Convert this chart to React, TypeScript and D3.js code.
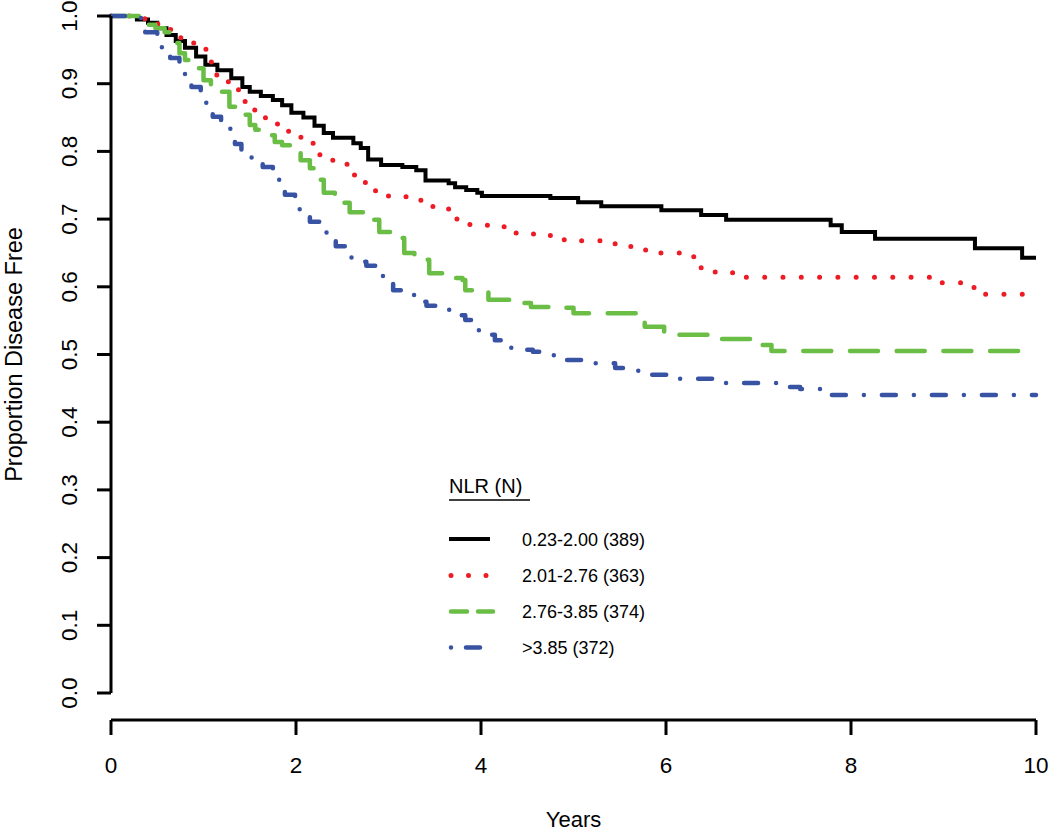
import React from "react";
import * as d3 from "d3";

const groupLabels = ["0.23-2.00 (389)", "2.01-2.76 (363)", "2.76-3.85 (374)", ">3.85 (372)"];
const groupColors = ["#000000", "#ED1C24", "#6ABD45", "#3953A4"];

const blackT = [0,0.28,0.4,0.5,0.6,0.7,0.8,0.92,1.02,1.15,1.3,1.42,1.5,1.62,1.75,1.85,1.95,2.08,2.2,2.3,2.4,2.62,2.7,2.78,2.92,3.15,3.3,3.4,3.65,3.72,3.84,3.96,4.01,4.75,5.05,5.3,5.95,6.38,6.65,7.78,7.9,8.26,9.34,9.85,10];
const blackS = [1,0.995,0.99,0.982,0.972,0.963,0.953,0.94,0.928,0.92,0.908,0.895,0.888,0.882,0.876,0.868,0.857,0.85,0.838,0.827,0.82,0.812,0.805,0.788,0.78,0.777,0.772,0.757,0.753,0.747,0.743,0.739,0.734,0.731,0.725,0.719,0.713,0.706,0.699,0.691,0.681,0.671,0.657,0.643,0.643];

const redT = [0,0.3,0.45,0.6,0.72,0.85,0.98,1.08,1.14,1.25,1.35,1.45,1.55,1.67,1.8,1.92,2.05,2.15,2.25,2.38,2.52,2.63,2.75,2.86,3.0,3.35,3.48,3.65,3.74,3.88,4.25,4.38,4.75,4.9,5.45,5.62,5.78,6.3,6.38,6.72,8.85,9.2,9.33,10];
const redS = [1,0.996,0.988,0.98,0.968,0.96,0.951,0.932,0.913,0.903,0.891,0.873,0.861,0.849,0.839,0.829,0.821,0.812,0.795,0.787,0.781,0.765,0.753,0.742,0.733,0.725,0.718,0.713,0.697,0.691,0.687,0.678,0.674,0.668,0.662,0.656,0.65,0.641,0.622,0.614,0.606,0.603,0.589,0.589];

const greenT = [0,0.3,0.38,0.48,0.58,0.65,0.74,0.8,0.9,1.0,1.08,1.17,1.28,1.4,1.5,1.56,1.7,1.77,1.85,1.96,2.05,2.15,2.21,2.3,2.42,2.58,2.74,2.9,3.03,3.17,3.28,3.44,3.6,3.8,3.83,4.0,4.08,4.33,4.54,4.8,5.0,5.68,5.77,5.98,6.6,6.94,7.14,10];
const greenS = [1,0.995,0.987,0.982,0.976,0.96,0.945,0.935,0.923,0.905,0.898,0.888,0.866,0.854,0.839,0.832,0.824,0.814,0.809,0.798,0.787,0.775,0.758,0.739,0.724,0.71,0.699,0.681,0.672,0.65,0.64,0.62,0.613,0.61,0.595,0.592,0.581,0.576,0.57,0.569,0.561,0.554,0.541,0.529,0.523,0.514,0.505,0.505];

const blueT = [0,0.28,0.37,0.5,0.55,0.64,0.74,0.8,0.87,0.97,1.03,1.1,1.19,1.29,1.34,1.41,1.52,1.64,1.75,1.88,1.99,2.04,2.15,2.26,2.33,2.43,2.53,2.6,2.76,2.9,2.94,3.05,3.19,3.29,3.41,3.6,3.68,3.83,3.94,4.0,4.15,4.26,4.4,4.56,4.75,4.81,5.1,5.45,5.7,5.78,6.1,6.6,7.3,7.45,7.68,10];
const blueS = [1,0.997,0.976,0.965,0.953,0.938,0.92,0.913,0.895,0.88,0.871,0.851,0.836,0.829,0.811,0.792,0.789,0.777,0.758,0.736,0.721,0.709,0.696,0.681,0.674,0.66,0.645,0.637,0.631,0.62,0.607,0.595,0.588,0.578,0.572,0.566,0.558,0.551,0.536,0.529,0.521,0.51,0.507,0.504,0.499,0.492,0.487,0.48,0.474,0.47,0.464,0.458,0.452,0.449,0.44,0.44];

const xTicks = [0, 2, 4, 6, 8, 10];
const yTicks = [0, 0.1, 0.2, 0.3, 0.4, 0.5, 0.6, 0.7, 0.8, 0.9, 1.0];

const seriesT = [blackT, redT, greenT, blueT];
const seriesS = [blackS, redS, greenS, blueS];
const dashes = [null, "0 18.3", "28 18.7", "14 18 0 18"];
const widths = [4, 5, 4.5, 4.5];

const FONT = "'Liberation Sans', Arial, Helvetica, sans-serif";

export default function App() {
  const x = d3.scaleLinear().domain([0, 10]).range([111, 1036]);
  const y = d3.scaleLinear().domain([0, 1]).range([693, 16]);
  const axisY = 720;
  const line = d3
    .line<[number, number]>()
    .x((d) => x(d[0]))
    .y((d) => y(d[1]))
    .curve(d3.curveStepAfter);

  const legX = 449;
  const legRowY = [539, 575.5, 611.5, 647.5];

  return (
    <svg
      width={1050}
      height={833}
      style={{ position: "absolute", left: 0, top: 0, display: "block", background: "#fff" }}
      fontFamily={FONT}
    >
      <rect x={0} y={0} width={1050} height={833} fill="#fff" />
      {seriesT.map((ts, i) => {
        const pts = ts.map((t, j) => [t, seriesS[i][j]] as [number, number]);
        return (
          <path
            key={i}
            d={line(pts) || ""}
            fill="none"
            stroke={groupColors[i]}
            strokeWidth={widths[i]}
            strokeDasharray={dashes[i] || undefined}
            strokeLinecap={i === 0 ? "butt" : "round"}
            strokeLinejoin={i === 0 ? "miter" : "round"}
          />
        );
      })}
      <line x1={111} x2={111} y1={y(0)} y2={y(1)} stroke="#000" strokeWidth={3} />
      {yTicks.map((v) => (
        <g key={v}>
          <line x1={97} x2={111} y1={y(v)} y2={y(v)} stroke="#000" strokeWidth={3} />
          <text
            transform={`translate(77,${y(v)}) rotate(-90)`}
            textAnchor="middle"
            fontSize={22.5}
            fill="#000"
          >
            {v.toFixed(1)}
          </text>
        </g>
      ))}
      <line x1={x(0)} x2={x(10)} y1={axisY} y2={axisY} stroke="#000" strokeWidth={3} />
      {xTicks.map((v) => (
        <g key={v}>
          <line x1={x(v)} x2={x(v)} y1={axisY} y2={axisY + 15} stroke="#000" strokeWidth={3} />
          <text x={x(v)} y={773} textAnchor="middle" fontSize={22.5} fill="#000">
            {v}
          </text>
        </g>
      ))}
      <text x={(x(0) + x(10)) / 2} y={827} textAnchor="middle" fontSize={22} fill="#000">
        Years
      </text>
      <text
        transform={`translate(22,${y(0.5)}) rotate(-90)`}
        textAnchor="middle"
        fontSize={23.5}
        fill="#000"
      >
        Proportion Disease Free
      </text>
      <text x={legX} y={493} fontSize={20} fill="#000">
        NLR (N)
      </text>
      <line x1={legX} x2={530} y1={500} y2={500} stroke="#000" strokeWidth={1.5} />
      {groupLabels.map((lab, i) => (
        <g key={lab}>
          <line
            x1={legX + (i === 0 ? 0 : 2)}
            x2={i === 0 ? 490 : i === 1 ? 487 : i === 2 ? 493 : 491}
            y1={legRowY[i]}
            y2={legRowY[i]}
            stroke={groupColors[i]}
            strokeWidth={widths[i]}
            strokeDasharray={i === 1 ? "0 17.5" : i === 2 ? "16 11" : i === 3 ? "0 15 14 15" : undefined}
            strokeLinecap={i === 0 ? "butt" : "round"}
          />
          <text x={522} y={legRowY[i] + 6.5} fontSize={18} fill="#000">
            {lab}
          </text>
        </g>
      ))}
    </svg>
  );
}
